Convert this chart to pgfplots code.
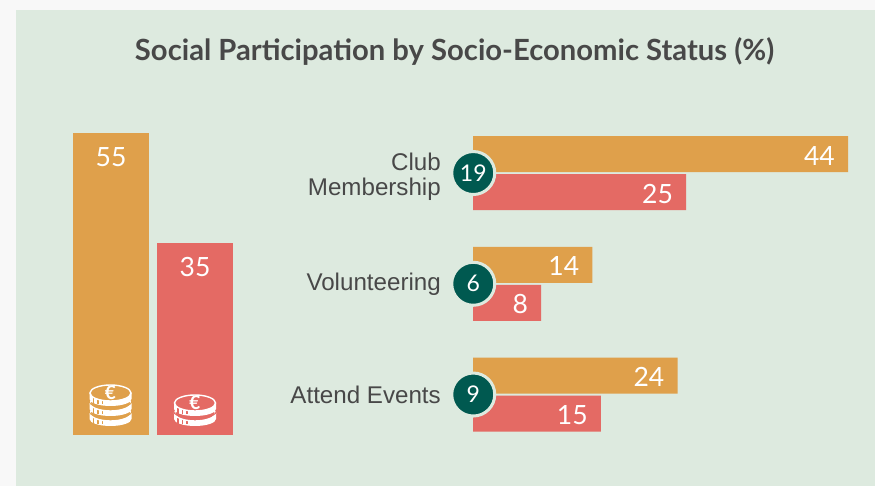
\documentclass[border=0pt]{standalone}
\usepackage{pgfplots}
\pgfplotsset{compat=1.18}
\usepackage{fontspec}
\setmainfont{Lato}
\newfontfamily\labelfont{Liberation Sans}
\definecolor{pagebg}{HTML}{F8F8F8}
\definecolor{panelbg}{HTML}{DDEADF}
\definecolor{barorange}{HTML}{DFA04B}
\definecolor{barred}{HTML}{E46A64}
\definecolor{circlegreen}{HTML}{005950}
\definecolor{inkgrey}{HTML}{484848}

% one coin of the stack, centre of its top face at (#1,#2)
\newcommand{\coin}[3]{%
  \fill[white] (#1-21,#2) -- (#1-21,#2-6) arc[start angle=180,end angle=360,x radius=21,y radius=7] -- (#1+21,#2) -- cycle;
  \foreach \s in {-17,-12.5,-8}{\draw[#3,line width=1.3pt] (#1+\s,#2-3) -- (#1+\s,#2-11.5);}
  \draw[#3,line width=1pt] (#1-22,#2-7.5) arc[start angle=180,end angle=360,x radius=22,y radius=8];
  \filldraw[fill=#3,draw=white,line width=1.4pt] (#1,#2) ellipse[x radius=20.5,y radius=8];
}

\begin{document}
\begin{tikzpicture}[x=1pt,y=1pt]
\useasboundingbox (0,0) rectangle (875,486);
\fill[pagebg] (0,0) rectangle (875,486);
\fill[panelbg] (16,0) rectangle (875,476);
\node[text=inkgrey,font=\fontsize{29.2}{34}\selectfont\bfseries] at (454.5,435) {Social Participation by Socio-Economic Status (\%)};

% left pair of columns
\begin{axis}[
  at={(69pt,51pt)},anchor=south west,
  scale only axis,width=168pt,height=302pt,
  xmin=-0.5,xmax=1.5,ymin=0,ymax=55,
  axis lines=none,clip=false,
  /pgf/number format/assume math mode=true,
  nodes near coords,
  every node near coord/.append style={anchor=north,yshift=-14.5pt,inner sep=0pt,text=white,font=\fontsize{26.5}{30}\selectfont},
]
\addplot[ybar,bar width=76pt,bar shift=0pt,fill=barorange,draw=none] coordinates {(0,55)};
\addplot[ybar,bar width=76pt,bar shift=0pt,fill=barred,draw=none] coordinates {(1,35)};
\end{axis}

% right grouped bars
\begin{axis}[
  at={(473pt,36.1pt)},anchor=south west,
  scale only axis,width=375pt,height=332.25pt,
  xmin=0,xmax=44,ymin=-0.5,ymax=2.5,y dir=reverse,
  clip=false,
  /pgf/number format/assume math mode=true,
  axis line style={draw=none},
  major tick length=0pt,
  xtick=\empty,
  ytick={0,1,2},
  yticklabels={{\rule{0pt}{24pt}Club\\Membership},Volunteering,Attend Events},
  yticklabel style={align=right,inner sep=0pt,xshift=-32pt,yshift=-0.5pt,text=inkgrey,font=\labelfont\fontsize{24.15}{25}\selectfont},
]
\addplot[xbar,bar width=36pt,bar shift=19pt,fill=barorange,draw=none,nodes near coords,
  every node near coord/.append style={anchor=east,xshift=-13pt,yshift=17.5pt,inner sep=0pt,text=white,font=\fontsize{26.5}{30}\selectfont}]
  coordinates {(44,0) (14,1) (24,2)};
\addplot[xbar,bar width=36pt,bar shift=-19pt,fill=barred,draw=none,nodes near coords,
  every node near coord/.append style={anchor=east,xshift=-13pt,yshift=-20.5pt,inner sep=0pt,text=white,font=\fontsize{26.5}{30}\selectfont}]
  coordinates {(25,0) (8,1) (15,2)};
\addplot[only marks,mark=*,mark size=21.5pt,mark options={fill=circlegreen,draw=panelbg,line width=3pt},
  nodes near coords,point meta=explicit symbolic,
  every node near coord/.append style={anchor=center,inner sep=0pt,text=white,font=\fontsize{23}{28}\selectfont}]
  coordinates {(0.03,0)[19] (0.03,1)[6] (0.03,2)[9]};
\end{axis}

% coin icons
\coin{110.5}{73}{barorange}
\coin{110.5}{83}{barorange}
\coin{110.5}{93}{barorange}
\node[text=white,font=\fontsize{19}{19}\selectfont\bfseries,inner sep=0pt] at (110.5,93.5) {€};
\coin{195}{73}{barred}
\coin{195}{83}{barred}
\node[text=white,font=\fontsize{19}{19}\selectfont\bfseries,inner sep=0pt] at (195,83.5) {€};
\end{tikzpicture}
\end{document}
